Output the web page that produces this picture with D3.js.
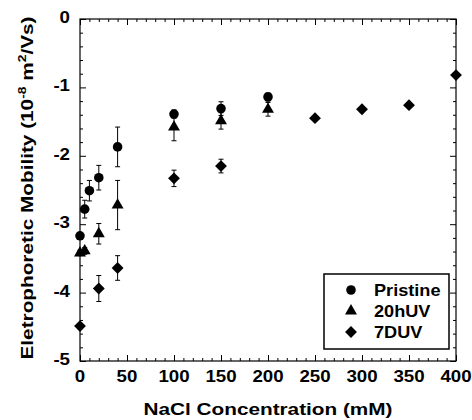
<!DOCTYPE html>
<html>
<head>
<meta charset="utf-8">
<script src="https://cdn.jsdelivr.net/npm/d3@7"></script>
<style>
  body { margin: 0; background: #fff; }
  text { font-family: "Liberation Sans", Arial, sans-serif; font-weight: bold; fill: #000; }
</style>
</head>
<body>
<div id="chart"></div>
<script>
// data (NaCl mM vs mobility, 1e-8 m2/Vs)
var pristineX = [0, 5, 10, 20, 40, 100, 150, 200];
var pristineY = [-3.17, -2.78, -2.51, -2.32, -1.87, -1.39, -1.31, -1.14];
var pristineErr = [0.04, 0.13, 0.15, 0.18, 0.29, 0.06, 0.1, 0.06];

var uv20X = [0, 5, 20, 40, 100, 150, 200];
var uv20Y = [-3.42, -3.39, -3.14, -2.72, -1.58, -1.49, -1.32];
var uv20Err = [0.04, 0.05, 0.15, 0.36, 0.2, 0.12, 0.1];

var uv7dX = [0, 20, 40, 100, 150, 250, 300, 350, 400];
var uv7dY = [-4.49, -3.94, -3.64, -2.33, -2.15, -1.45, -1.32, -1.26, -0.82];
var uv7dErr = [0.04, 0.19, 0.18, 0.12, 0.1, 0.03, 0.03, 0.03, 0.03];

var seriesNames = ["Pristine", "20hUV", "7DUV"];
var xTicks = [0, 50, 100, 150, 200, 250, 300, 350, 400];
var yTicks = [0, -1, -2, -3, -4, -5];

var margin = { top: 19, right: 16, bottom: 59, left: 80 },
    W = 472, H = 420,
    width = W - margin.left - margin.right,
    height = H - margin.top - margin.bottom;

var x = d3.scaleLinear().domain([0, 400]).range([0, width]);
var y = d3.scaleLinear().domain([-5, 0]).range([height, 0]);

// diamond = square turned 45 deg
var symbols = [d3.symbolCircle, d3.symbolTriangle, d3.symbolSquare];
var symSize = [72, 62, 70];
var symRot = [0, 0, 45];

var series = [
  { name: seriesNames[0], xs: pristineX, ys: pristineY, es: pristineErr },
  { name: seriesNames[1], xs: uv20X, ys: uv20Y, es: uv20Err },
  { name: seriesNames[2], xs: uv7dX, ys: uv7dY, es: uv7dErr }
];

var svg = d3.select("#chart").append("svg")
    .attr("width", W)
    .attr("height", H);

var g = svg.append("g")
    .attr("transform", "translate(" + margin.left + "," + margin.top + ")");

// minor + major ticks, all pointing in
var xMinor = d3.range(0, 401, 10).filter(d => d % 50 != 0);
var yMinor = d3.range(-50, 1, 2).map(d => d / 10).filter(d => Math.round(d * 10) % 10 != 0);

function tickAxis(axisFn, scale, vals, size, tr) {
  var a = g.append("g")
      .attr("transform", tr)
      .call(axisFn(scale).tickValues(vals).tickSize(size).tickFormat(""));
  a.select(".domain").remove();
  a.selectAll("line").attr("stroke", "#000").attr("stroke-width", 1);
  return a;
}

// bottom
tickAxis(d3.axisTop, x, xTicks, 6, "translate(0," + height + ")");
tickAxis(d3.axisTop, x, xMinor, 3, "translate(0," + height + ")");
// top
tickAxis(d3.axisBottom, x, xTicks, 6, "translate(0,0)");
tickAxis(d3.axisBottom, x, xMinor, 3, "translate(0,0)");
// left
tickAxis(d3.axisRight, y, yTicks, 6, "translate(0,0)");
tickAxis(d3.axisRight, y, yMinor, 3, "translate(0,0)");
// right
tickAxis(d3.axisLeft, y, yTicks, 6, "translate(" + width + ",0)");
tickAxis(d3.axisLeft, y, yMinor, 3, "translate(" + width + ",0)");

// frame
g.append("rect")
    .attr("width", width)
    .attr("height", height)
    .attr("fill", "none")
    .attr("stroke", "#000")
    .attr("stroke-width", 1.2);

// tick labels
g.selectAll(".xlab").data(xTicks).enter().append("text")
    .attr("class", "xlab")
    .attr("x", d => x(d))
    .attr("y", height + 21)
    .attr("text-anchor", "middle")
    .style("font-size", "17px")
    .attr("transform", d => "translate(" + x(d) + ",0) scale(1.1,1) translate(" + (-x(d)) + ",0)")
    .text(d => d);

g.selectAll(".ylab").data(yTicks).enter().append("text")
    .attr("class", "ylab")
    .attr("x", -10)
    .attr("y", d => y(d) + 4)
    .attr("text-anchor", "end")
    .style("font-size", "17px")
    .attr("transform", "translate(-10,0) scale(1.1,1) translate(10,0)")
    .text(d => d);

// axis titles
svg.append("text")
    .attr("x", margin.left + width / 2)
    .attr("y", 415)
    .attr("text-anchor", "middle")
    .attr("textLength", 249)
    .attr("lengthAdjust", "spacingAndGlyphs")
    .style("font-size", "16.5px")
    .text("NaCl Concentration (mM)");

var yt = svg.append("text")
    .attr("transform", "translate(33," + (margin.top + height / 2 - 2) + ") rotate(-90)")
    .attr("text-anchor", "middle")
    .attr("textLength", 343)
    .attr("lengthAdjust", "spacingAndGlyphs")
    .style("font-size", "16.5px");
yt.append("tspan").text("Eletrophoretic Mobility (10");
yt.append("tspan").attr("dy", -7).style("font-size", "11px").text("-8");
yt.append("tspan").attr("dy", 7).text(" m");
yt.append("tspan").attr("dy", -7).style("font-size", "11px").text("2");
yt.append("tspan").attr("dy", 7).text("/Vs)");

// error bars + markers
series.forEach(function (s, i) {
  var pts = s.xs.map((v, k) => ({ x: v, y: s.ys[k], e: s.es[k] }));
  var sg = g.append("g");
  var eb = sg.selectAll(".eb").data(pts).enter().append("g");
  eb.append("line")
      .attr("x1", d => x(d.x)).attr("x2", d => x(d.x))
      .attr("y1", d => y(d.y + d.e)).attr("y2", d => y(d.y - d.e))
      .attr("stroke", "#000");
  eb.append("line")
      .attr("x1", d => x(d.x) - 2.5).attr("x2", d => x(d.x) + 2.5)
      .attr("y1", d => y(d.y + d.e)).attr("y2", d => y(d.y + d.e))
      .attr("stroke", "#000");
  eb.append("line")
      .attr("x1", d => x(d.x) - 2.5).attr("x2", d => x(d.x) + 2.5)
      .attr("y1", d => y(d.y - d.e)).attr("y2", d => y(d.y - d.e))
      .attr("stroke", "#000");
  sg.selectAll("path.m").data(pts).enter().append("path")
      .attr("class", "m")
      .attr("d", d3.symbol().type(symbols[i]).size(symSize[i]))
      .attr("transform", d => "translate(" + x(d.x) + "," + y(d.y) + ") rotate(" + symRot[i] + ")")
      .attr("fill", "#000");
});

// legend
var lg = svg.append("g").attr("transform", "translate(324,274)");
lg.append("rect")
    .attr("width", 125)
    .attr("height", 75)
    .attr("fill", "#fff")
    .attr("stroke", "#000")
    .attr("stroke-width", 1.5);
seriesNames.forEach(function (n, i) {
  var cy = 16 + i * 21;
  lg.append("path")
      .attr("d", d3.symbol().type(symbols[i]).size(symSize[i]))
      .attr("transform", "translate(27," + cy + ") rotate(" + symRot[i] + ")")
      .attr("fill", "#000");
  lg.append("text")
      .attr("x", 50)
      .attr("y", cy + 6)
      .style("font-size", "16.5px")
      .attr("transform", "translate(50,0) scale(1.1,1) translate(-50,0)")
      .text(n);
});
</script>
</body>
</html>
